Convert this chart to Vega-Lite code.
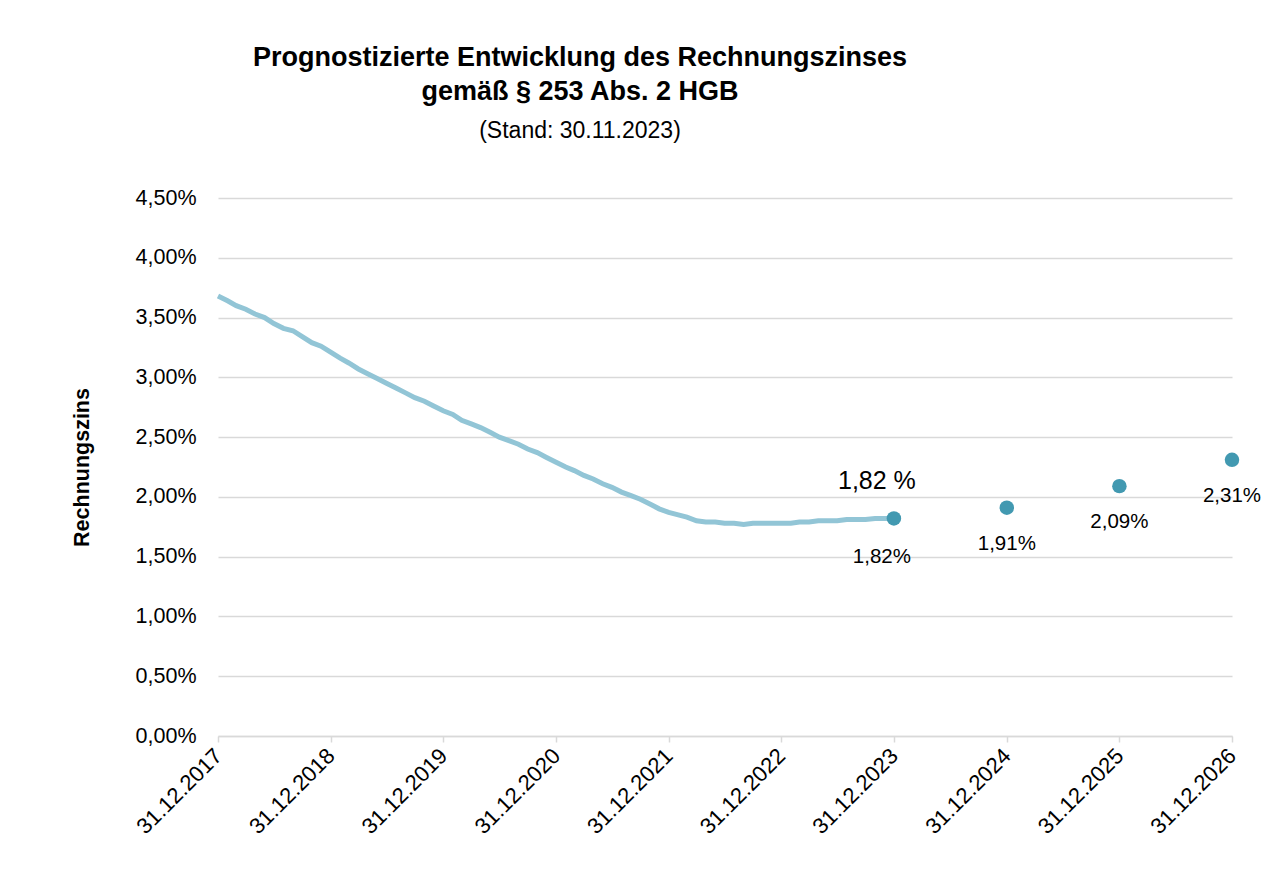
{
  "$schema": "https://vega.github.io/schema/vega-lite/v6.json",
  "width": 1014,
  "height": 538,
  "autosize": {"type": "none"},
  "padding": {"left": 218, "top": 198, "right": 40, "bottom": 138},
  "background": "white",
  "config": {
    "locale": {"number": {"decimal": ",", "thousands": ".", "grouping": [3], "currency": ["", " €"]}},
    "view": {"stroke": null},
    "font": "Liberation Sans"
  },
  "title": {
    "text": ["Prognostizierte Entwicklung des Rechnungszinses", "gemäß § 253 Abs. 2 HGB"],
    "subtitle": "(Stand: 30.11.2023)",
    "anchor": "middle",
    "dx": -145,
    "fontSize": 27,
    "fontWeight": "bold",
    "lineHeight": 34,
    "color": "black",
    "subtitleFontSize": 23,
    "subtitleColor": "black",
    "subtitlePadding": 14,
    "offset": 43
  },
  "datasets": {
    "hist": [
      {"date": "2017-12-31", "v": 0.0368},
      {"date": "2018-01-31", "v": 0.0364},
      {"date": "2018-02-28", "v": 0.0360},
      {"date": "2018-03-31", "v": 0.0357},
      {"date": "2018-04-30", "v": 0.0353},
      {"date": "2018-05-31", "v": 0.0350},
      {"date": "2018-06-30", "v": 0.0345},
      {"date": "2018-07-31", "v": 0.0341},
      {"date": "2018-08-31", "v": 0.0339},
      {"date": "2018-09-30", "v": 0.0334},
      {"date": "2018-10-31", "v": 0.0329},
      {"date": "2018-11-30", "v": 0.0326},
      {"date": "2018-12-31", "v": 0.0321},
      {"date": "2019-01-31", "v": 0.0316},
      {"date": "2019-02-28", "v": 0.0312},
      {"date": "2019-03-31", "v": 0.0307},
      {"date": "2019-04-30", "v": 0.0303},
      {"date": "2019-05-31", "v": 0.0299},
      {"date": "2019-06-30", "v": 0.0295},
      {"date": "2019-07-31", "v": 0.0291},
      {"date": "2019-08-31", "v": 0.0287},
      {"date": "2019-09-30", "v": 0.0283},
      {"date": "2019-10-31", "v": 0.0280},
      {"date": "2019-11-30", "v": 0.0276},
      {"date": "2019-12-31", "v": 0.0272},
      {"date": "2020-01-31", "v": 0.0269},
      {"date": "2020-02-29", "v": 0.0264},
      {"date": "2020-03-31", "v": 0.0261},
      {"date": "2020-04-30", "v": 0.0258},
      {"date": "2020-05-31", "v": 0.0254},
      {"date": "2020-06-30", "v": 0.0250},
      {"date": "2020-07-31", "v": 0.0247},
      {"date": "2020-08-31", "v": 0.0244},
      {"date": "2020-09-30", "v": 0.0240},
      {"date": "2020-10-31", "v": 0.0237},
      {"date": "2020-11-30", "v": 0.0233},
      {"date": "2020-12-31", "v": 0.0229},
      {"date": "2021-01-31", "v": 0.0225},
      {"date": "2021-02-28", "v": 0.0222},
      {"date": "2021-03-31", "v": 0.0218},
      {"date": "2021-04-30", "v": 0.0215},
      {"date": "2021-05-31", "v": 0.0211},
      {"date": "2021-06-30", "v": 0.0208},
      {"date": "2021-07-31", "v": 0.0204},
      {"date": "2021-08-31", "v": 0.0201},
      {"date": "2021-09-30", "v": 0.0198},
      {"date": "2021-10-31", "v": 0.0194},
      {"date": "2021-11-30", "v": 0.0190},
      {"date": "2021-12-31", "v": 0.0187},
      {"date": "2022-01-31", "v": 0.0185},
      {"date": "2022-02-28", "v": 0.0183},
      {"date": "2022-03-31", "v": 0.0180},
      {"date": "2022-04-30", "v": 0.0179},
      {"date": "2022-05-31", "v": 0.0179},
      {"date": "2022-06-30", "v": 0.0178},
      {"date": "2022-07-31", "v": 0.0178},
      {"date": "2022-08-31", "v": 0.0177},
      {"date": "2022-09-30", "v": 0.0178},
      {"date": "2022-10-31", "v": 0.0178},
      {"date": "2022-11-30", "v": 0.0178},
      {"date": "2022-12-31", "v": 0.0178},
      {"date": "2023-01-31", "v": 0.0178},
      {"date": "2023-02-28", "v": 0.0179},
      {"date": "2023-03-31", "v": 0.0179},
      {"date": "2023-04-30", "v": 0.0180},
      {"date": "2023-05-31", "v": 0.0180},
      {"date": "2023-06-30", "v": 0.0180},
      {"date": "2023-07-31", "v": 0.0181},
      {"date": "2023-08-31", "v": 0.0181},
      {"date": "2023-09-30", "v": 0.0181},
      {"date": "2023-10-31", "v": 0.0182},
      {"date": "2023-11-30", "v": 0.0182},
      {"date": "2023-12-31", "v": 0.0182}
    ],
    "prog": [
      {"date": "2023-12-31", "v": 0.0182, "year": 2023},
      {"date": "2024-12-31", "v": 0.0191, "year": 2024},
      {"date": "2025-12-31", "v": 0.0209, "year": 2025},
      {"date": "2026-12-31", "v": 0.0231, "year": 2026}
    ]
  },
  "encoding": {
    "x": {
      "field": "date",
      "type": "temporal",
      "scale": {"type": "utc", "domain": ["2017-12-31", "2026-12-31"]},
      "axis": {
        "title": null,
        "values": ["2017-12-31", "2018-12-31", "2019-12-31", "2020-12-31", "2021-12-31", "2022-12-31", "2023-12-31", "2024-12-31", "2025-12-31", "2026-12-31"],
        "labelExpr": "utcFormat(datum.value, '%d.%m.%Y')",
        "grid": false,
        "domainColor": "#d9d9d9",
        "domainWidth": 1.5,
        "tickColor": "#d9d9d9",
        "tickWidth": 1.5,
        "tickSize": 6,
        "labelAngle": -45,
        "labelAlign": "right",
        "labelBaseline": "middle",
        "labelPadding": 10,
        "labelFontSize": 22,
        "labelColor": "black",
        "labelOverlap": false,
        "labelFlush": false
      }
    },
    "y": {
      "field": "v",
      "type": "quantitative",
      "scale": {"domain": [0, 0.045], "nice": false, "zero": true},
      "axis": {
        "title": "Rechnungszins",
        "titleFontSize": 21.5,
        "titleFontWeight": "bold",
        "titleColor": "black",
        "titlePadding": 42,
        "values": [0, 0.005, 0.01, 0.015, 0.02, 0.025, 0.03, 0.035, 0.04, 0.045],
        "format": ".2%",
        "grid": true,
        "gridColor": "#d9d9d9",
        "gridWidth": 1.5,
        "domain": false,
        "ticks": false,
        "labelPadding": 22,
        "labelFontSize": 21.5,
        "labelColor": "black"
      }
    }
  },
  "layer": [
    {
      "data": {"name": "hist"},
      "mark": {"type": "line", "color": "#92c5d6", "strokeWidth": 5, "interpolate": "linear"}
    },
    {
      "data": {"name": "prog"},
      "mark": {"type": "point", "filled": true, "size": 210, "color": "#4299b1", "opacity": 1}
    },
    {
      "data": {"name": "prog"},
      "transform": [{"filter": "datum.year > 2023"}],
      "mark": {"type": "text", "dy": 36, "fontSize": 20.5, "color": "black"},
      "encoding": {"text": {"field": "v", "type": "quantitative", "format": ".2%"}}
    },
    {
      "data": {"name": "prog"},
      "transform": [{"filter": "datum.year == 2023"}],
      "mark": {"type": "text", "dy": 39, "dx": -12, "fontSize": 20.5, "color": "black"},
      "encoding": {"text": {"field": "v", "type": "quantitative", "format": ".2%"}}
    },
    {
      "data": {"name": "prog"},
      "transform": [{"filter": "datum.year == 2023"}],
      "mark": {"type": "text", "dy": -37, "dx": -17, "fontSize": 25, "color": "black", "text": "1,82 %"}
    }
  ]
}
